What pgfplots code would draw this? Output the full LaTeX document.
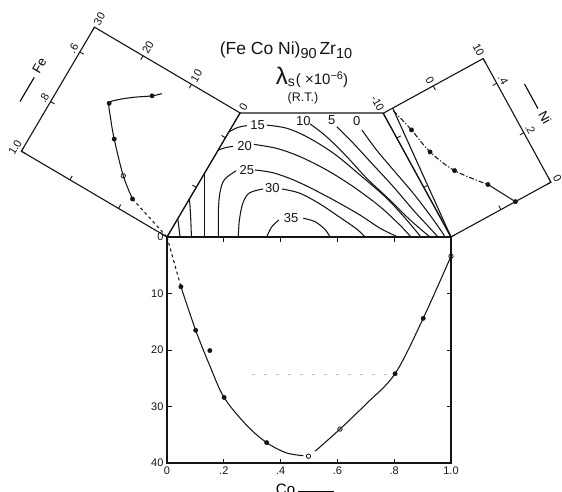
\documentclass[border=0pt]{standalone}
\usepackage{fontspec}
\setmainfont{Liberation Sans}
\usepackage{pgfplots}
\pgfplotsset{compat=1.18}

\definecolor{ink}{gray}{0.08}

\pgfplotsset{
  panel/.style={
    scale only axis, clip=false,
    axis line style={line width=1.1pt, ink},
    tick style={line width=0.9pt, ink},
    major tick length=4.5pt,
    tick align=inside,
    ticklabel style={font=\fontsize{11}{12}\selectfont, text=ink},
  },
  curve/.style={line width=1.05pt, ink, smooth, tension=0.55, no marks},
  dots/.style={only marks, mark=*, mark size=2.2pt, ink, mark options={fill=ink}},
  odots/.style={only marks, mark=o, mark size=2.2pt, ink, mark options={line width=0.8pt, fill=white}},
  iso/.style={line width=1.05pt, ink, smooth, tension=0.55, no marks},
}

\begin{document}
\begin{tikzpicture}[x=1pt,y=1pt]

% ---------------- lambda versus Co along the Fe--Co binary ----------------
\begin{scope}[shift={(167,29)}]
\begin{axis}[panel,
  at={(0,0)}, anchor=south west,
  width=284pt, height=226pt,
  xmin=0, xmax=1, ymin=0, ymax=40, y dir=reverse,
  xtick={0,0.2,0.4,0.6,0.8,1}, xticklabels={0,.2,.4,.6,.8,1.0},
  ytick={0,10,20,30,40}, yticklabels={0,10,20,30,40},
  xlabel={Co\hspace{3pt}\rule[0.35ex]{36pt}{1.1pt}},
  xlabel style={font=\fontsize{15}{16}\selectfont, at={(axis description cs:0.486,0)}, anchor=north, yshift=-21pt, inner sep=0pt},
]
\draw[gray!50, line width=0.8pt, dash pattern=on 3pt off 9pt] (axis cs:0.3,24.3) -- (axis cs:0.8,24.3);
\addplot[curve, dashed] coordinates {(0,0) (0.049,8.8)};
\addplot[curve] coordinates {(0.049,8.8) (0.101,16.5) (0.15,22.7) (0.201,28.4) (0.28,33.3) (0.351,36.4) (0.42,38.2) (0.48,38.7)};
\addplot[curve] coordinates {(0.522,37.9) (0.609,34.0) (0.70,29.6) (0.803,24.2) (0.902,14.4) (1.0,3.4)};
\addplot[dots] coordinates {(0.049,8.8) (0.101,16.5) (0.151,20.1) (0.201,28.4) (0.351,36.4) (0.803,24.2) (0.902,14.4)};
\addplot[odots] coordinates {(0.498,38.8) (0.609,34.0) (1.0,3.4)};
\end{axis}
\end{scope}

% ---------------- iso-magnetostriction lines in the ternary section ----------------
\begin{scope}[shift={(167,255)}]
\begin{axis}[
  at={(0,0)}, anchor=south west, scale only axis,
  width=284pt, height=124pt,
  xmin=0, xmax=1, ymin=0, ymax=0.4366,
  axis lines=none, clip=false,
]
\draw[line width=1.1pt, ink] (axis cs:0,0) -- (axis cs:0.257,0.4366) -- (axis cs:0.761,0.4366) -- (axis cs:1,0);
\draw[line width=1.1pt, ink] (axis cs:1,0) -- (axis cs:0.795,0.453);
% unlabelled lines near the Fe corner
\addplot[iso] coordinates {(0.046,0) (0.038,0.065)};
\addplot[iso] coordinates {(0.086,0) (0.083,0.077) (0.079,0.134)};
\addplot[iso] coordinates {(0.132,0) (0.132,0.130) (0.132,0.224)};
% 35
\addplot[iso] coordinates {(0.351,0) (0.369,0.036) (0.394,0.060)};
\addplot[iso] coordinates {(0.480,0.066) (0.521,0.054) (0.556,0.027) (0.574,0)};
% 30
\addplot[iso] coordinates {(0.251,0) (0.255,0.060) (0.267,0.119) (0.290,0.155) (0.338,0.169)};
\addplot[iso] coordinates {(0.405,0.169) (0.468,0.154) (0.539,0.116) (0.609,0.069) (0.668,0.028) (0.697,0)};
% 25
\addplot[iso] coordinates {(0.181,0) (0.181,0.095) (0.187,0.160) (0.203,0.203) (0.243,0.233)};
\addplot[iso] coordinates {(0.310,0.236) (0.374,0.226) (0.445,0.201) (0.515,0.168) (0.598,0.124) (0.680,0.077) (0.750,0.031) (0.813,0)};
% 20
\addplot[iso] coordinates {(0.180,0.306) (0.208,0.315) (0.232,0.319)};
\addplot[iso] coordinates {(0.306,0.326) (0.386,0.312) (0.468,0.283) (0.562,0.236) (0.656,0.177) (0.750,0.107) (0.820,0.042) (0.859,0)};
% 15
\addplot[iso] coordinates {(0.220,0.371) (0.250,0.386) (0.281,0.392)};
\addplot[iso] coordinates {(0.351,0.394) (0.421,0.383) (0.492,0.353) (0.586,0.295) (0.680,0.218) (0.774,0.136) (0.844,0.060) (0.894,0)};
% 10
\addplot[iso] coordinates {(0.504,0.398) (0.562,0.353) (0.633,0.283) (0.703,0.207) (0.785,0.130) (0.856,0.060) (0.926,0)};
% 5
\addplot[iso] coordinates {(0.598,0.388) (0.656,0.330) (0.726,0.254) (0.797,0.177) (0.867,0.095) (0.926,0.031) (0.954,0)};
% 0
\addplot[iso] coordinates {(0.686,0.377) (0.738,0.306) (0.797,0.236) (0.867,0.154) (0.926,0.077) (0.967,0.019) (0.979,0)};
\begin{scope}[every node/.style={font=\fontsize{13}{14}\selectfont, text=ink, inner sep=0pt}]
\node at (axis cs:0.437,0.066) {35};
\node at (axis cs:0.371,0.174) {30};
\node at (axis cs:0.281,0.236) {25};
\node at (axis cs:0.273,0.321) {20};
\node at (axis cs:0.319,0.394) {15};
\node at (axis cs:0.480,0.410) {10};
\node at (axis cs:0.580,0.410) {5};
\node at (axis cs:0.668,0.410) {0};
\end{scope}
\end{axis}
\end{scope}

% ---------------- lambda versus Fe along the Fe--Ni binary ----------------
\begin{scope}[shift={(167,255)}, rotate=59.5, transform shape]
\begin{axis}[panel,
  at={(0,0)}, anchor=south west,
  width=144pt, height=169pt,
  xmin=0.5, xmax=1, x dir=reverse, ymin=0, ymax=30,
  xtick={0.6,0.8,1.0}, xticklabels={.6,.8,1.0}, xticklabel pos=right,
  ytick={0,10,20,30}, yticklabels={0,10,20,30}, yticklabel pos=right,
  xlabel={\rule[0.35ex]{28pt}{1.1pt}\hspace{5pt}Fe},
  xlabel style={font=\fontsize{13}{14}\selectfont, at={(axis description cs:0.46,1.165)}, anchor=center},
]
\addplot[curve] coordinates {(0.58,13.7) (0.604,15.0) (0.641,17.7) (0.678,20.0) (0.702,20.9) (0.740,19.5) (0.80,16.9) (0.894,12.2) (0.947,8.7)};
\addplot[curve, dashed] coordinates {(0.947,8.7) (1.0,0)};
\addplot[dots] coordinates {(0.604,15.0) (0.702,20.9) (0.80,16.9) (0.947,8.7)};
\addplot[odots] coordinates {(0.894,12.2)};
\end{axis}
\end{scope}

% ---------------- lambda versus Ni along the Co--Ni binary ----------------
\begin{scope}[shift={(383.2,378.7)}, rotate=-61.3, transform shape]
\begin{axis}[panel,
  at={(0,0)}, anchor=south west,
  width=141pt, height=114pt,
  xmin=0, xmax=0.5, x dir=reverse, ymin=-10, ymax=10,
  xtick={0,0.2,0.4}, xticklabels={0,.2,.4}, xticklabel pos=right,
  ytick={-10,0,10}, yticklabels={-10,0,10}, yticklabel pos=left,
  xlabel={\rule[0.35ex]{28pt}{1.1pt}\hspace{5pt}Ni},
  xlabel style={font=\fontsize{13}{14}\selectfont, at={(axis description cs:0.46,1.226)}, anchor=center},
]
\addplot[curve, dash pattern=on 5pt off 2pt on 1.2pt off 2pt] coordinates {(0.49,-8.2) (0.4,-7.05) (0.3,-6.05) (0.2,-3.84) (0.1,0.12)};
\addplot[curve] coordinates {(0.1,0.12) (0,2.9)};
\addplot[dots] coordinates {(0.4,-7.05) (0.3,-6.05) (0.2,-3.84) (0.1,0.12) (0,2.9)};
\end{axis}
\end{scope}

% ---------------- heading ----------------
\node[font=\fontsize{17.5}{19}\selectfont, text=ink] at (286,442)
  {(Fe Co Ni)\raisebox{-0.45ex}{\fontsize{14.5}{14}\selectfont 90}\,Zr\raisebox{-0.45ex}{\fontsize{14.5}{14}\selectfont 10}};
\node[text=ink, anchor=base] at (312,407)
  {{\fontsize{24}{24}\selectfont λ}\raisebox{-0.2ex}{\fontsize{14}{14}\selectfont s}\hspace{1pt}{\fontsize{15}{15}\selectfont( ×10\raisebox{0.75ex}{\fontsize{11}{11}\selectfont −6})}};
\node[font=\fontsize{12.5}{13}\selectfont, text=ink] at (303,393.5) {(R.T.)};

% page frame
\pgfresetboundingbox
\useasboundingbox (0,0) rectangle (562,492);
\end{tikzpicture}
\end{document}
